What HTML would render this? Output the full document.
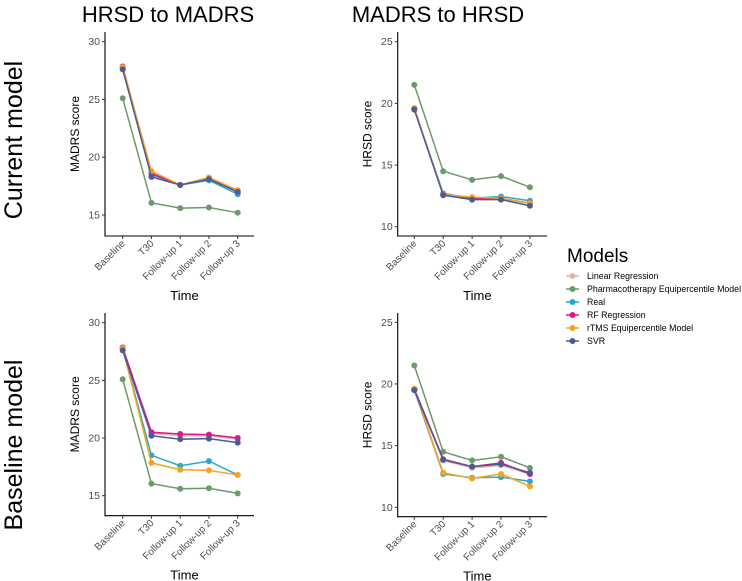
<!DOCTYPE html>
<html><head><meta charset="utf-8"><style>
body{margin:0;background:#fff;}
svg{display:block;font-family:"Liberation Sans",Arial,sans-serif;}
</style></head><body>
<svg id="c" width="742" height="581"></svg>
<script>
const categories=["Baseline","T30","Follow-up 1","Follow-up 2","Follow-up 3"];
const models=["Linear Regression","Pharmacotherapy Equipercentile Model","Real","RF Regression","rTMS Equipercentile Model","SVR"];
const colors=["#d8b9a9","#6b9a6b","#2ea8c4","#e0168a","#f7a21e","#4c5b98"];
// panel 1: current model, HRSD to MADRS
const p1LR=[27.8,18.6,17.6,18.2,17.0];
const p1PH=[25.1,16.05,15.6,15.65,15.2];
const p1RE=[27.7,18.5,17.6,18.0,16.8];
const p1RF=[27.85,18.6,17.6,18.2,17.0];
const p1TM=[27.8,18.8,17.6,18.25,17.15];
const p1SV=[27.6,18.3,17.6,18.1,17.0];
// panel 2: current model, MADRS to HRSD
const p2LR=[19.6,12.6,12.3,12.3,11.9];
const p2PH=[21.5,14.5,13.8,14.1,13.2];
const p2RE=[19.5,12.7,12.3,12.45,12.1];
const p2RF=[19.6,12.6,12.3,12.3,11.9];
const p2TM=[19.6,12.6,12.4,12.3,11.9];
const p2SV=[19.5,12.55,12.2,12.2,11.7];
// panel 3: baseline model, HRSD to MADRS
const p3LR=[27.8,20.4,20.2,20.2,19.9];
const p3PH=[25.1,16.05,15.6,15.65,15.2];
const p3RE=[27.7,18.5,17.6,18.0,16.8];
const p3RF=[27.85,20.5,20.35,20.3,20.0];
const p3TM=[27.8,17.85,17.25,17.2,16.8];
const p3SV=[27.6,20.2,19.9,19.95,19.6];
// panel 4: baseline model, MADRS to HRSD
const p4LR=[19.6,13.8,13.2,13.4,12.7];
const p4PH=[21.5,14.5,13.8,14.1,13.2];
const p4RE=[19.5,12.7,12.4,12.45,12.1];
const p4RF=[19.6,13.9,13.3,13.6,12.7];
const p4TM=[19.6,12.8,12.35,12.7,11.7];
const p4SV=[19.5,13.85,13.3,13.5,12.8];
const madrsTicks=[15,20,25,30];
const hrsdTicks=[10,15,20,25];

const svg=document.getElementById('c');
const NS='http://www.w3.org/2000/svg';
function el(t,a,p){const e=document.createElementNS(NS,t);for(const k in a)e.setAttribute(k,a[k]);(p||svg).appendChild(e);return e;}

const panels=[
 {x0:105,x1:254,top:32,bot:236,cx0:122.7,step:28.75,vLo:15,yLo:215,vHi:30,yHi:41.7,ticks:madrsTicks,title:"MADRS score",data:[p1LR,p1PH,p1RE,p1RF,p1TM,p1SV],name:"current-hrsd-to-madrs"},
 {x0:397.7,x1:547,top:32,bot:236,cx0:414.3,step:28.9,vLo:10,yLo:226.7,vHi:25,yHi:41.7,ticks:hrsdTicks,title:"HRSD score",data:[p2LR,p2PH,p2RE,p2RF,p2TM,p2SV],name:"current-madrs-to-hrsd"},
 {x0:105,x1:254,top:313,bot:515.7,cx0:122.7,step:28.75,vLo:15,yLo:495.7,vHi:30,yHi:322.7,ticks:madrsTicks,title:"MADRS score",data:[p3LR,p3PH,p3RE,p3RF,p3TM,p3SV],name:"baseline-hrsd-to-madrs"},
 {x0:397.7,x1:547,top:313,bot:516.7,cx0:414.3,step:28.9,vLo:10,yLo:507.3,vHi:25,yHi:322.3,ticks:hrsdTicks,title:"HRSD score",data:[p4LR,p4PH,p4RE,p4RF,p4TM,p4SV],name:"baseline-madrs-to-hrsd"}
];

panels.forEach(p=>{
  const g=el('g',{});
  
  
  const ys=v=>p.yLo+(v-p.vLo)*(p.yHi-p.yLo)/(p.vHi-p.vLo);
  const xs=i=>p.cx0+i*p.step;
  el('line',{x1:p.x0,y1:p.top,x2:p.x0,y2:p.bot+0.5,stroke:'#000','stroke-width':1.1},g);
  el('line',{x1:p.x0-0.5,y1:p.bot,x2:p.x1,y2:p.bot,stroke:'#000','stroke-width':1.1},g);
  p.ticks.forEach(t=>{
    const y=ys(t);
    el('line',{x1:p.x0-3,y1:y,x2:p.x0,y2:y,stroke:'#333','stroke-width':1},g);
    const tx=el('text',{x:p.x0-5,y:y+3.5,'text-anchor':'end','font-size':10.5,fill:'#4d4d4d'},g);
    tx.textContent=t;
    
    
  });
  categories.forEach((c,i)=>{
    const x=xs(i);
    el('line',{x1:x,y1:p.bot,x2:x,y2:p.bot+3,stroke:'#333','stroke-width':1},g);
    const tx=el('text',{x:x+3,y:p.bot+8,'text-anchor':'end','font-size':10,fill:'#4d4d4d',transform:`rotate(-45 ${x+3} ${p.bot+8})`},g);
    tx.textContent=c;
    
    
  });
  const xt=el('text',{x:(p.x0+p.x1)/2+5,y:p.bot+64,'text-anchor':'middle','font-size':13,fill:'#000'},g);
  xt.textContent='Time';
  
  
  const ycx=p.x0-26, ycy=(p.top+p.bot)/2;
  const yt=el('text',{x:ycx,y:ycy,'text-anchor':'middle','font-size':12,fill:'#000',transform:`rotate(-90 ${ycx} ${ycy})`},g);
  yt.textContent=p.title;
  
  
  p.data.forEach((arr,m)=>{
    const s=el('g',{},g);
    
    
    el('polyline',{points:arr.map((v,i)=>xs(i)+','+ys(v)).join(' '),fill:'none',stroke:colors[m],'stroke-width':1.5},s);
    arr.forEach((v,i)=>{
      const c=el('circle',{cx:xs(i),cy:ys(v),r:3,fill:colors[m]},s);
      
      
    });
  });
});

function txt(s,a,name){const t=el('text',a);t.textContent=s;return t;}
txt('HRSD to MADRS',{x:168,y:22,'text-anchor':'middle','font-size':22},'column-title-hrsd-to-madrs');
txt('MADRS to HRSD',{x:438,y:22,'text-anchor':'middle','font-size':22},'column-title-madrs-to-hrsd');
txt('Current model',{x:22,y:140,'text-anchor':'middle','font-size':25,transform:'rotate(-90 22 140)'},'row-title-current-model');
txt('Baseline model',{x:22,y:445,'text-anchor':'middle','font-size':25,transform:'rotate(-90 22 445)'},'row-title-baseline-model');

const lg=el('g',{});


const lt=el('text',{x:567,y:262,'font-size':19},lg);
lt.textContent='Models';


models.forEach((m,i)=>{
  const y=276+i*13;
  const e=el('g',{},lg);
  
  
  el('line',{x1:566,y1:y,x2:579,y2:y,stroke:colors[i],'stroke-width':1.5},e);
  el('circle',{cx:572.5,cy:y,r:3,fill:colors[i]},e);
  const t=el('text',{x:587,y:y+3,'font-size':8.8,fill:'#000'},e);
  t.textContent=m;
});
</script>
</body></html>
